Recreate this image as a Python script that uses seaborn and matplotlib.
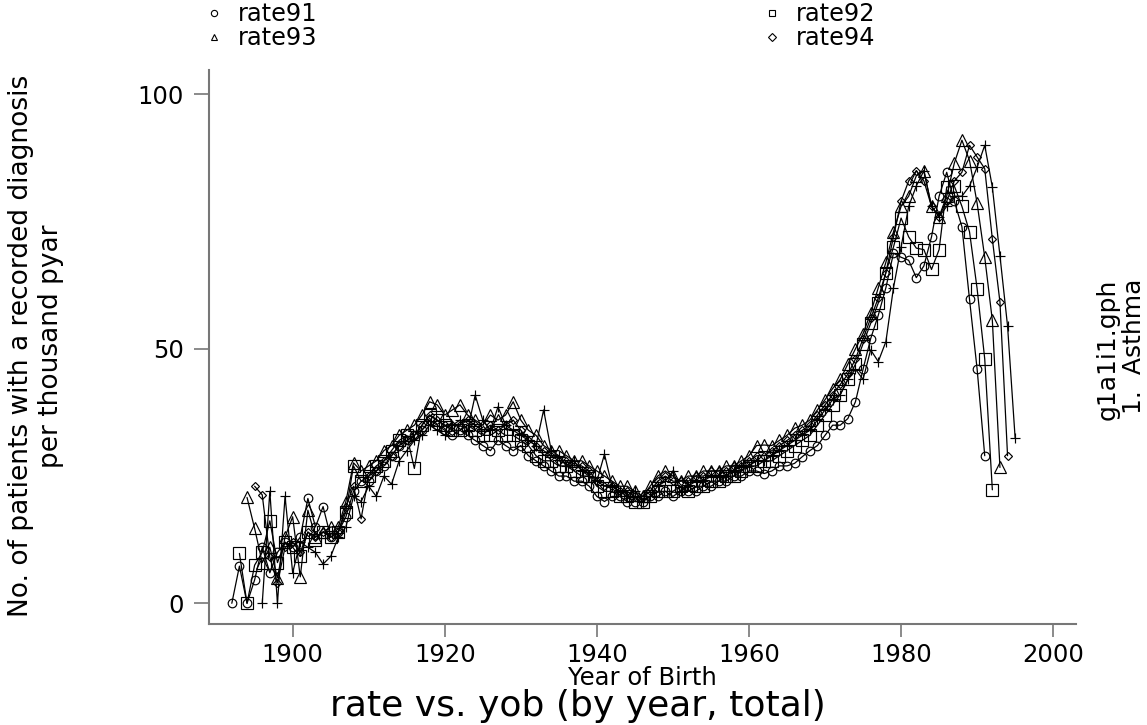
import numpy as np
import pandas as pd
import matplotlib
matplotlib.use("Agg")
import matplotlib.pyplot as plt
import seaborn as sns
from matplotlib.lines import Line2D

# rates per thousand pyar, one value per year of birth
rate91 = [0, 7.3, 0, 4.6, 11, 6, 10, 12, 11, 13, 20.6, 15, 19, 13, 14, 17,
          22, 24, 24, 26, 27, 29, 31, 32, 33, 34, 36, 35, 34, 33, 34, 33,
          32, 31, 30, 32, 31, 30, 31, 29, 28, 27, 26, 25, 25, 24, 24, 23,
          21, 20, 21, 21, 20, 20, 20, 21, 21, 22, 21, 22, 22, 22, 23, 23,
          24, 24, 25, 25, 26, 26, 25.5, 26, 27, 27, 27.5, 28.8, 30, 31, 33, 35,
          35, 36.3, 39.6, 46, 52, 56.6, 62, 68.8, 68, 67.4, 64, 66.3, 72, 80, 84.7, 79,
          74, 59.7, 46, 29]
rate92 = [9.8, 0, 7.5, 10, 16.2, 8, 12, 11, 9.2, 14, 12.4, 14, 13, 14, 18,
          27, 24, 25, 27, 28, 30, 32, 33, 26.5, 35, 37, 36, 35, 34, 34, 35,
          34, 33, 33, 34, 33, 33, 32, 31, 29, 28, 28, 27, 27, 26, 25, 25,
          23, 22, 22, 21, 21, 20, 20, 21, 22, 22, 22, 23, 22, 23, 23, 24,
          24, 25, 25, 26, 27, 27, 28, 28, 29, 30, 31, 32, 33, 35, 37, 39,
          41, 44, 47, 51, 55, 59, 65, 70, 75.7, 72, 69.8, 69.5, 65.6, 69.5, 81.8, 82,
          78, 73, 61.8, 48, 22.3]
rate93 = [20.8, 14.7, 8, 11, 5, 13, 17, 5.2, 18.3, 13, 14, 15, 15, 20,
          27.6, 26, 27, 28, 30, 31, 33, 34, 35, 37, 39.6, 39, 37, 38, 39, 37,
          36, 35, 37, 36, 37, 39.6, 36, 34, 33, 31, 30, 30, 29, 28, 28, 27,
          26, 25, 24, 23, 23, 22, 21, 23, 25, 26, 25, 24, 25, 25, 26, 26,
          26, 27, 27, 28, 29, 31, 31.1, 31, 32, 33, 34.4, 35, 36, 38, 40, 42.2,
          44, 47, 50, 53, 57, 62, 67, 73, 78, 80, 84, 85, 78, 76, 80, 86.5,
          91, 87, 78.6, 68, 55.6, 26.7]
rate94 = [23, 21.3, 9, 4, 11, 12, 10, 14, 13, 14, 13, 14, 19,
          23, 16.6, 25, 26, 28, 29, 31, 32, 33, 35, 37, 36, 35, 35, 35, 36,
          35, 34, 35, 34, 35, 36, 34, 32, 31, 30, 29, 28, 28, 27, 27, 26,
          24, 23, 23, 22, 22, 21, 21, 22, 24, 25, 24, 24, 24, 25, 25, 26,
          26, 26, 27, 27, 28, 29, 29, 30, 31, 32, 33, 34, 35, 37, 39, 41,
          43, 45, 48, 52, 56, 60, 65, 72, 79, 83, 85, 83, 78, 76, 79, 83,
          84.7, 90, 87.7, 85.4, 71.6, 59.2, 29]
rate95 = [0, 22, 0, 21, 6, 12, 11, 10, 7.7, 9.2, 13, 15,
          21, 20, 23, 21, 25, 23.4, 28, 30, 32, 33, 35, 34, 33, 35, 36,
          34, 40.9, 36, 34, 38.6, 35, 34, 33, 32, 31, 38, 30, 29, 27, 28,
          26, 25, 24, 29.3, 23, 22, 21, 22, 20, 21, 23, 24, 26, 22, 23,
          24, 24, 25, 25, 25, 26, 27, 27, 28, 28, 29, 30, 31, 32, 33, 34,
          36, 38, 40, 41, 44, 46, 44, 49.8, 47.5, 51.4, 62, 70, 78, 82, 85,
          78, 76, 78, 80, 80, 82, 85.7, 90, 81.8, 68.3, 54.5, 32.4]

series_names = ["rate91", "rate92", "rate93", "rate94", "rate95"]
series_values = [rate91, rate92, rate93, rate94, rate95]
first_yob = [1892, 1893, 1894, 1895, 1896]

rows = []
for name, vals, y0 in zip(series_names, series_values, first_yob):
    for i, v in enumerate(vals):
        rows.append((name, y0 + i, v))
df = pd.DataFrame(rows, columns=["series", "yob", "rate"])

markers = {"rate91": "o", "rate92": "s", "rate93": "^", "rate94": "D", "rate95": "+"}
msizes = {"rate91": 6.2, "rate92": 8.0, "rate93": 8.4, "rate94": 4.2, "rate95": 7.2}

sns.set_theme(style="white")
plt.rcParams["font.family"] = ["DejaVu Sans"]
plt.rcParams["text.color"] = "black"

W, H = 1147, 725
fig = plt.figure(figsize=(W / 100, H / 100), dpi=100)
ax = fig.add_axes([209 / W, 1 - 624 / H, (1076 - 209) / W, (624 - 70) / H])

for name in series_names:
    sns.lineplot(data=df[df["series"] == name], x="yob", y="rate",
                 color="black", lw=0.9, marker=markers[name], markersize=msizes[name],
                 markerfacecolor="none", markeredgecolor="black", markeredgewidth=0.85,
                 errorbar=None, ax=ax)

ax.set_xlim(1889.0, 2003.0)
ax.set_ylim(-4.07, 104.8)
ax.set_xticks([1900, 1920, 1940, 1960, 1980, 2000])
ax.set_yticks([0, 50, 100])
ax.set_xlabel("")
ax.set_ylabel("")
for s in ["top", "right"]:
    ax.spines[s].set_visible(False)
for s in ["left", "bottom"]:
    ax.spines[s].set_color("#777777")
    ax.spines[s].set_linewidth(1.5)
ax.tick_params(axis="x", length=9.5, width=1.2, color="#777777", pad=4,
               labelsize=17.5, labelcolor="black", bottom=True)
ax.tick_params(axis="y", length=11, width=1.2, color="#777777", pad=7,
               labelsize=17.5, labelcolor="black", left=True)

fig.text(642 / W, 1 - 685 / H, "Year of Birth", ha="center", va="baseline",
         fontsize=17.5, color="black")
fig.text(578 / W, 1 - 716 / H, "rate vs. yob (by year, total)", ha="center",
         va="baseline", fontsize=26, color="black")
fig.text(21 / W, 1 - 346 / H, "No. of patients with a recorded diagnosis",
         rotation=90, ha="center", va="center", fontsize=19, color="black")
fig.text(51 / W, 1 - 346 / H, "per thousand pyar",
         rotation=90, ha="center", va="center", fontsize=19, color="black")
fig.text(1108 / W, 1 - 279 / H, "g1a1i1.gph", rotation=90, ha="center", va="top",
         fontsize=18, color="black")
fig.text(1134 / W, 1 - 279 / H, "1.  Asthma", rotation=90, ha="center", va="top",
         fontsize=18, color="black")

handles = []
for name in ["rate91", "rate93", "rate92", "rate94"]:
    handles.append(Line2D([], [], ls="none", marker=markers[name], color="black",
                          markerfacecolor="none", markersize=4.5, markeredgewidth=0.8))
leg = fig.legend(handles, ["rate91", "rate93", "rate92", "rate94"], ncol=2,
                 loc="upper left", bbox_to_anchor=(202 / W, 1 - 2 / H), frameon=False,
                 fontsize=17.3, handlelength=1.0, handletextpad=0.5, labelspacing=0.0,
                 columnspacing=18.4, borderpad=0, borderaxespad=0)
for t in leg.get_texts():
    t.set_color("black")

fig.savefig("out.png", dpi=100)
